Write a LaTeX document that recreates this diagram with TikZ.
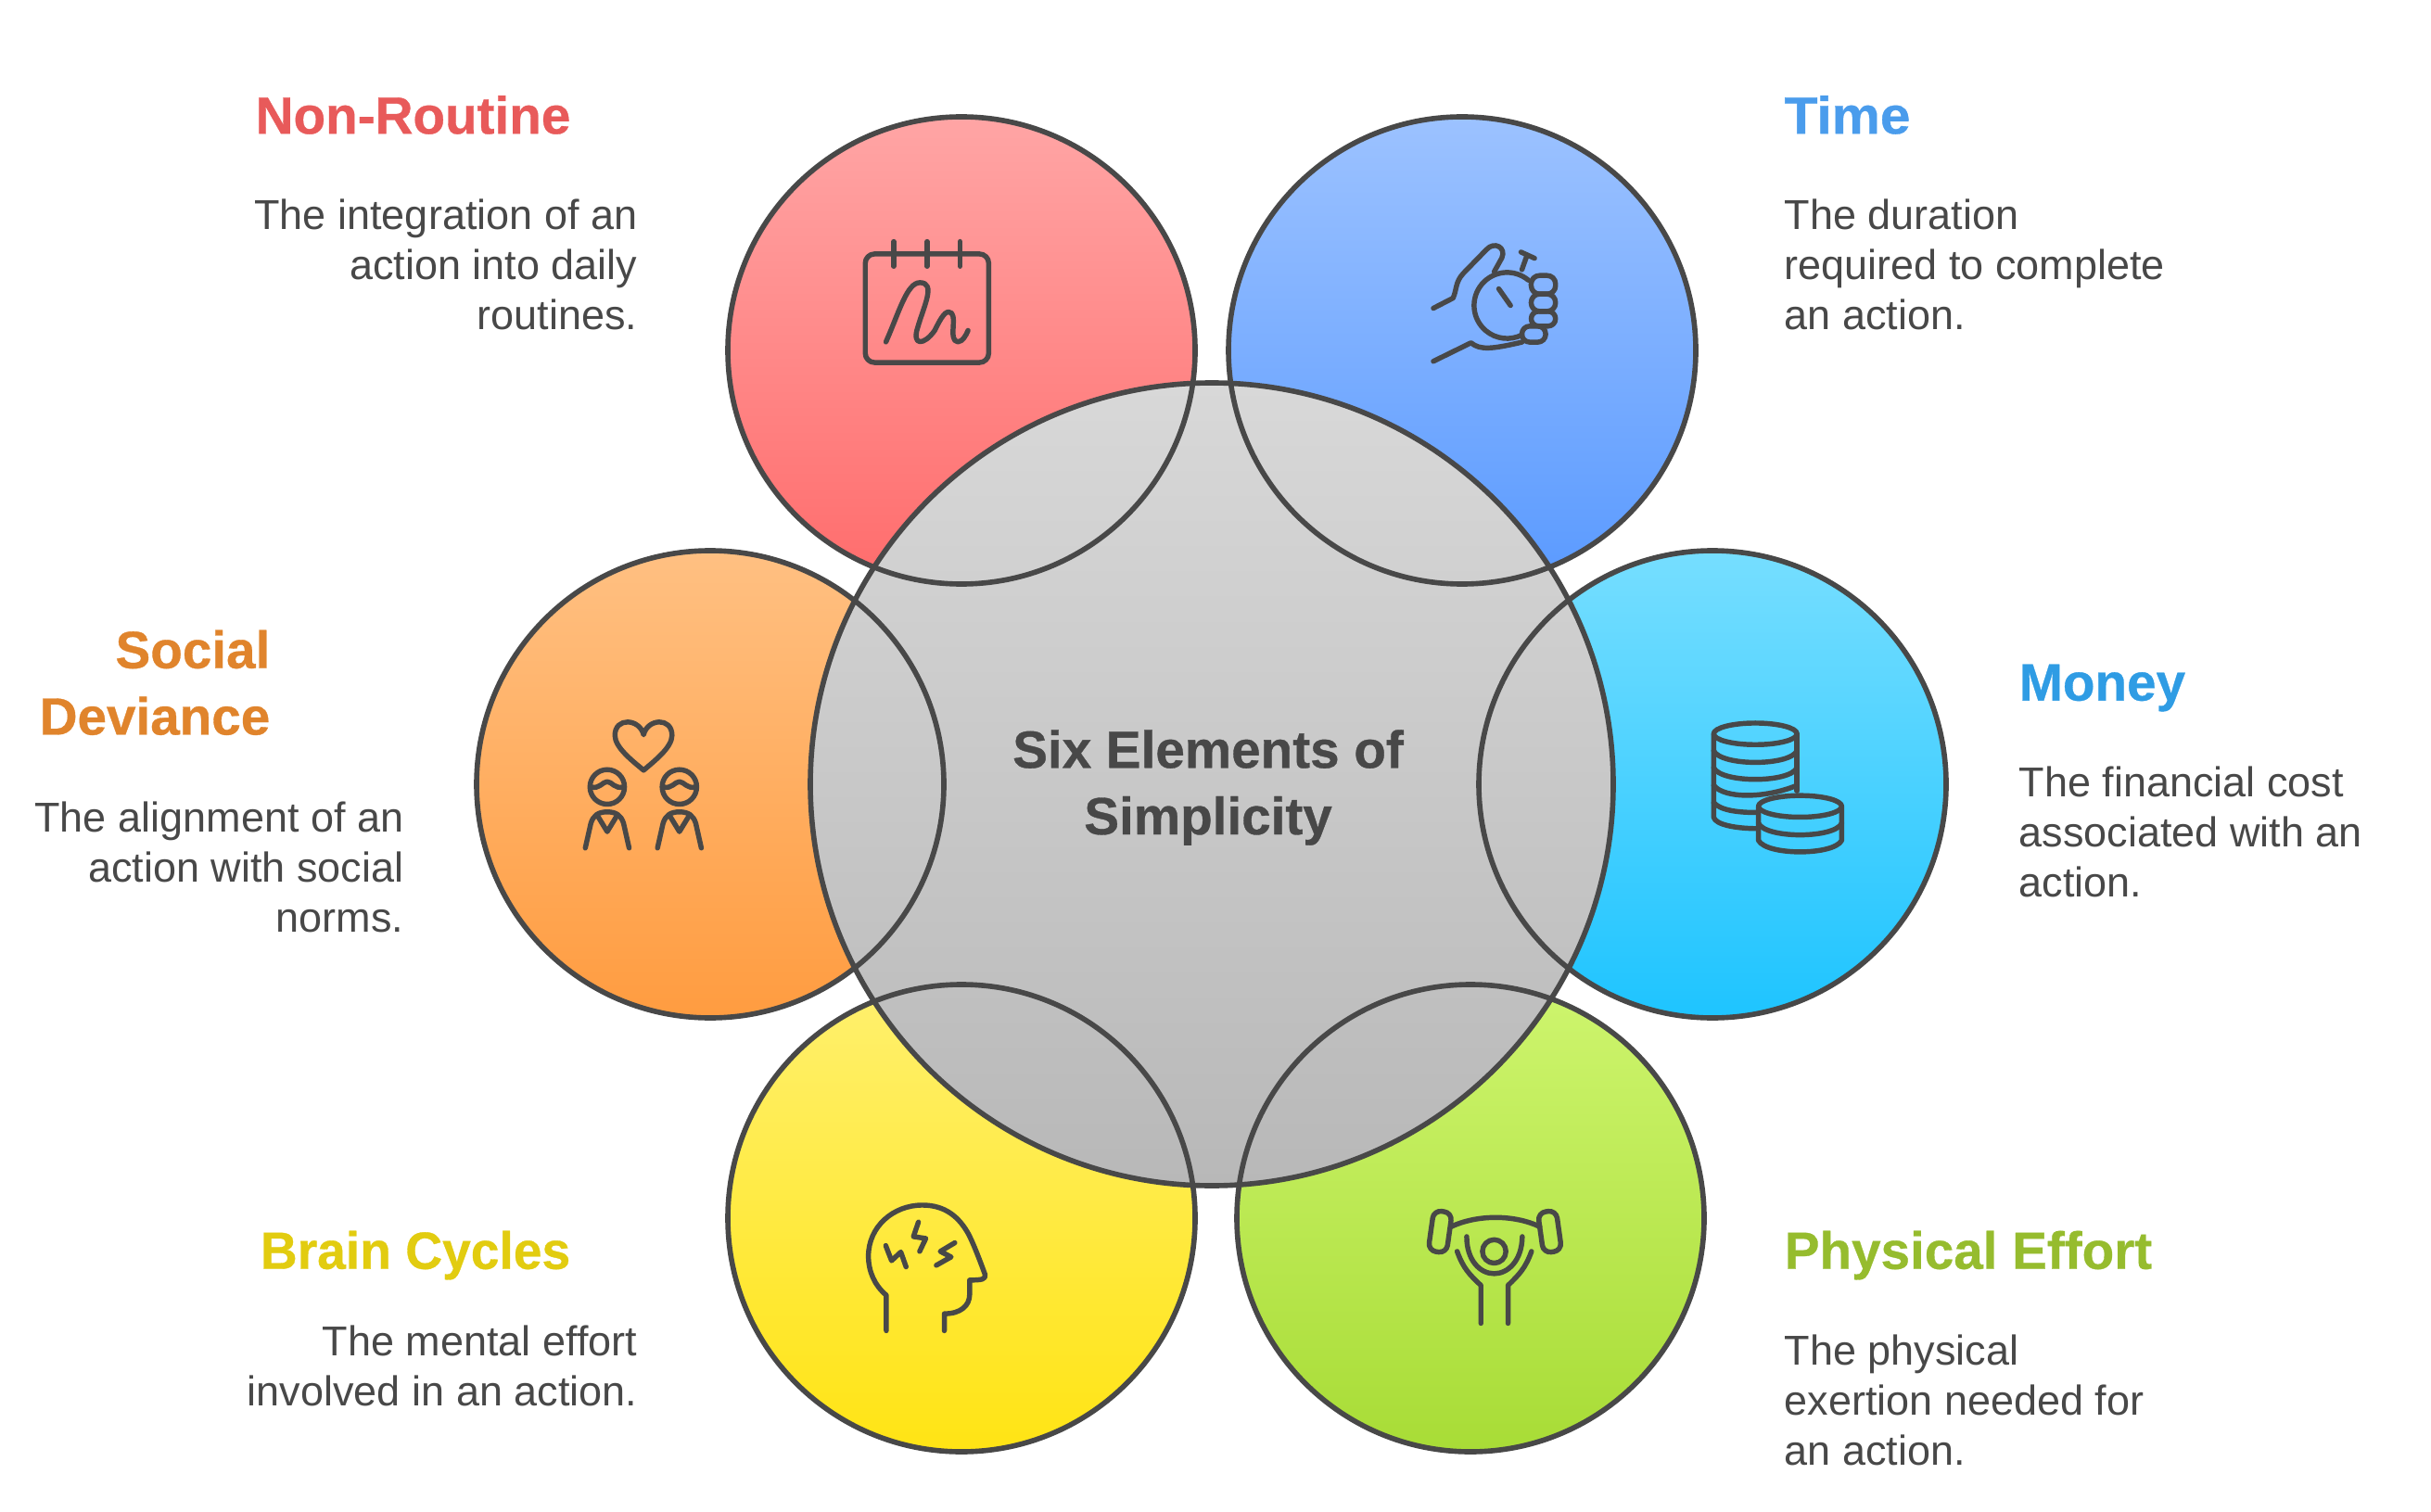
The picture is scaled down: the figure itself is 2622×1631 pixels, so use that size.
\documentclass[tikz,border=0pt]{standalone}
\usepackage{fontspec}
\setmainfont[BoldFeatures={FakeBold=0.6}]{Liberation Sans}
\definecolor{ink}{HTML}{484848}
\definecolor{cNR}{HTML}{E85A5A}
\definecolor{cT}{HTML}{4A9CEC}
\definecolor{cM}{HTML}{2F9CE4}
\definecolor{cP}{HTML}{96BC2E}
\definecolor{cB}{HTML}{E2CC10}
\definecolor{cS}{HTML}{E0842C}
\tikzset{
 ring/.style={draw=ink,line width=1.6pt},
 icon/.style={draw=ink,line width=1.55pt,line cap=round,line join=round},
 title/.style={inner sep=0pt,font=\fontsize{16.1}{20.4}\selectfont\bfseries,text=#1},
 bodytext/.style={inner sep=0pt,text=ink,font=\fontsize{12.8}{15.35}\selectfont},
 zoomed/.style={x=0.003333cm,y=-0.003333cm},
}
\begin{document}
\begin{tikzpicture}[x=0.01cm,y=-0.01cm]
\useasboundingbox (0,0) rectangle (2622,1631);
% petals
\shade[top color={rgb,255:red,255;green,165;blue,165},bottom color={rgb,255:red,255;green,108;blue,108}] (1037,378) circle (252);
\shade[top color={rgb,255:red,156;green,194;blue,255},bottom color={rgb,255:red,90;green,154;blue,255}] (1577,378) circle (252);
\shade[top color={rgb,255:red,118;green,222;blue,255},bottom color={rgb,255:red,30;green,196;blue,255}] (1847,846) circle (252);
\shade[top color={rgb,255:red,206;green,245;blue,110},bottom color={rgb,255:red,168;green,220;blue,54}] (1586,1314) circle (252);
\shade[top color={rgb,255:red,255;green,240;blue,110},bottom color={rgb,255:red,255;green,228;blue,20}] (1037,1314) circle (252);
\shade[top color={rgb,255:red,255;green,192;blue,130},bottom color={rgb,255:red,255;green,156;blue,64}] (766,846) circle (252);
% centre
\shade[top color={rgb,255:red,216;green,216;blue,216},bottom color={rgb,255:red,184;green,184;blue,184}] (1307,846) circle (433);
\draw[ring] (1037,378) circle (252);
\draw[ring] (1577,378) circle (252);
\draw[ring] (1847,846) circle (252);
\draw[ring] (1586,1314) circle (252);
\draw[ring] (1037,1314) circle (252);
\draw[ring] (766,846) circle (252);
\draw[ring] (1307,846) circle (433);
% centre title
\node[align=center,title=ink] (ctitle) at (1303,849.5) {Six Elements of\\Simplicity};
% Non-routine
\node[title=cNR,anchor=north east] (t1) at (616,102.5) {Non-Routine};
\node[bodytext,anchor=north east,align=right] (b1) at (688,214) {The integration of an\\action into daily\\routines.};
% Time
\node[title=cT,anchor=north west] (t2) at (1924,102.5) {\scalebox{1.035}[1]{Time}};
\node[bodytext,anchor=north west,align=left] (b2) at (1924,214) {The duration\\required to complete\\an action.};
% Money
\node[title=cM,anchor=north west] (t3) at (2177,716) {Money};
\node[bodytext,anchor=north west,align=left] (b3) at (2177,826) {The financial cost\\associated with an\\action.};
% Physical
\node[title=cP,anchor=north west] (t4) at (1924,1327) {Physical Effort};
\node[bodytext,anchor=north west,align=left] (b4) at (1924,1439) {The physical\\exertion needed for\\an action.};
% Brain
\node[title=cB,anchor=north east] (t5) at (616,1327) {\scalebox{0.975}[1]{Brain Cycles}};
\node[bodytext,anchor=north east,align=right] (b5) at (688,1429) {The mental effort\\involved in an action.};
% Social
\node[title=cS,anchor=north east,align=right] (t6) at (292,679) {Social\\Deviance};
\node[bodytext,anchor=north east,align=right] (b6) at (436,864) {The alignment of an\\action with social\\norms.};
% calendar icon
\begin{scope}[shift={(880,230)},zoomed]
\draw[icon,rounded corners=1mm] (160,132) rectangle (560,484);
\draw[icon] (252,92)--(252,172) (360,92)--(360,172) (467,92)--(467,172);
\draw[icon] (227,417) .. controls (270,320) and (295,225) .. (337,225) .. controls (390,225) and (350,300) .. (330,370) .. controls (310,430) and (350,430) .. (385,380) .. controls (400,350) and (415,320) .. (430,320) .. controls (465,320) and (425,415) .. (460,417) .. controls (475,417) and (487,395) .. (493,380);
\end{scope}
% stopwatch icon
\begin{scope}[shift={(1510,230)},zoomed]
\draw[icon] (415.8,217) arc[start angle=-50,end angle=-297,radius=107];
\draw[icon] (320,245)--(358,299);
\draw[icon] (395,183)--(411,138) (392,126)--(436,146);
\draw[icon] (108,308)--(172,275) .. controls (185,245) and (178,225) .. (205,195) -- (280,118) .. controls (305,90) and (345,110) .. (330,145) -- (305,190);
\draw[icon] (108,480)--(230,420) .. controls (260,445) and (300,440) .. (395,418);
\draw[icon,rounded corners=0.9mm] (425,202) rectangle (504,262);
\draw[icon,rounded corners=0.9mm] (425,262) rectangle (504,318);
\draw[icon,rounded corners=0.8mm] (425,318) rectangle (504,366);
\draw[icon,rounded corners=0.85mm] (395,366) rectangle (472,418);
\end{scope}
% people icon
\begin{scope}[shift={(600,750)},zoomed]
\draw[icon] (283,128) .. controls (270,75) and (190,70) .. (190,130) .. controls (190,170) and (250,215) .. (283,243) .. controls (315,215) and (375,170) .. (375,130) .. controls (375,70) and (295,75) .. (283,128) -- cycle;
\foreach \dx in {0,234}{
\draw[icon] (165+\dx,297) circle (56);
\draw[icon] (113+\dx,297) .. controls (140+\dx,305) and (150+\dx,280) .. (165+\dx,280) .. controls (180+\dx,280) and (190+\dx,305) .. (217+\dx,297);
\draw[icon] (94+\dx,495) -- (112+\dx,415) .. controls (120+\dx,390) and (135+\dx,378) .. (165+\dx,378) .. controls (195+\dx,378) and (210+\dx,390) .. (218+\dx,415) -- (236+\dx,495);
\draw[icon] (137+\dx,396) -- (165+\dx,442) -- (193+\dx,396);
}
\end{scope}
% coins icon
\begin{scope}[shift={(1830,760)},zoomed]
\draw[icon] (190,95) ellipse (135 and 35);
\draw[icon] (55,95) -- (55,365) .. controls (60,390) and (130,402) .. (197,402);
\draw[icon] (325,95) -- (325,280);
\draw[icon] (55,150) .. controls (80,200) and (300,200) .. (325,150);
\draw[icon] (55,205) .. controls (80,255) and (300,255) .. (325,205);
\draw[icon] (55,262) .. controls (90,305) and (220,305) .. (325,262);
\draw[icon] (55,318) .. controls (80,345) and (140,350) .. (197,350);
\draw[icon] (335,330) ellipse (135 and 35);
\draw[icon] (200,330) -- (200,440) .. controls (225,490) and (445,490) .. (470,440) -- (470,330);
\draw[icon] (200,385) .. controls (225,435) and (445,435) .. (470,385);
\end{scope}
% brain icon
\begin{scope}[shift={(920,1280)},zoomed]
\draw[icon] (108,467) -- (108,352) .. controls (70,320) and (50,275) .. (50,225) .. controls (50,130) and (130,60) .. (225,60) .. controls (300,60) and (345,100) .. (375,155) .. controls (395,195) and (415,250) .. (428,285) .. controls (430,300) and (420,303) .. (378,303) -- (378,350) .. controls (378,385) and (350,412) .. (296,412) -- (296,467);
\draw[icon] (106,191) -- (125,240) -- (155,212) -- (172,260);
\draw[icon] (212,115) -- (196,162) -- (236,168) -- (216,210);
\draw[icon] (330,182) -- (283,210) -- (318,228) -- (270,255);
\end{scope}
% lifter icon
\begin{scope}[shift={(1530,1290)},zoomed]
\draw[icon,rotate around={-8:(70,115)},rounded corners=0.85mm] (40,50) rectangle (100,182);
\draw[icon,rotate around={8:(425,115)},rounded corners=0.85mm] (395,50) rectangle (455,182);
\draw[icon] (105,100) .. controls (190,60) and (310,60) .. (393,100);
\draw[icon] (245,180) circle (38);
\draw[icon] (156,132) .. controls (156,210) and (200,252) .. (245,252) .. controls (290,252) and (335,210) .. (336,132);
\draw[icon] (125,180) .. controls (145,235) and (165,255) .. (202,290) -- (202,413);
\draw[icon] (366,180) .. controls (346,235) and (326,255) .. (290,290) -- (290,413);
\end{scope}
\end{tikzpicture}
\end{document}
